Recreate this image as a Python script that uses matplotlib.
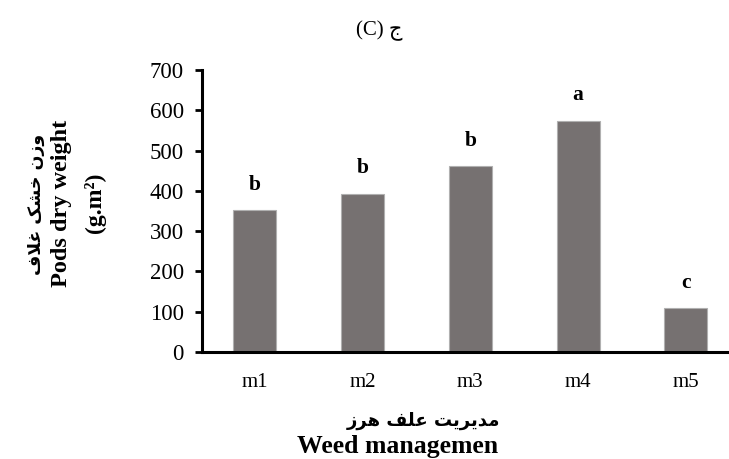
import matplotlib
matplotlib.use("Agg")
import matplotlib.pyplot as plt

categories = ["m1", "m2", "m3", "m4", "m5"]
values = [352, 393, 461, 574, 108]
letters = ["b", "b", "b", "a", "c"]
yticks = [0, 100, 200, 300, 400, 500, 600, 700]

# Arabic/Persian text in visual order using presentation forms
title_fa = "\uFE9D"                      # ج
ylab_fa = "\uFED1\uFEFC\uFECF \uFB8F\uFEB8\uFEA7 \uFEE5\uFEAF\uFEED"   # وزن خشک غلاف
xlab_fa = "\uFEAF\uFEAE\uFEEB \uFED2\uFEE0\uFECB \uFE96\uFBFE\uFEAE\uFBFE\uFEAA\uFEE3"  # مدیریت علف هرز

fam = ["Liberation Serif", "DejaVu Sans"]
plt.rcParams["font.family"] = fam

fig = plt.figure(figsize=(7.29, 4.59), dpi=100)
ax = fig.add_axes([202/729, (459-352)/459, 1 - 202/729, (352-70)/459])

x = list(range(len(categories)))
bars = ax.bar(x, values, width=0.4, color="#767171", edgecolor="#b0b0b0", linewidth=0.8)
for xi, v, l in zip(x, values, letters):
    ax.annotate(l, (xi, v), xytext=(0, 11), textcoords="offset points",
                ha="center", va="bottom", fontsize=15.5, fontweight="bold")

ax.set_xlim(-0.49, 4.4)
ax.set_ylim(0, 700)
ax.set_yticks(yticks)
ax.set_xticks(x)
ax.set_xticklabels(categories)
ax.tick_params(axis="y", length=5, width=2, labelsize=16.5, pad=8)
ax.tick_params(axis="x", length=0, labelsize=15, pad=15)
for s in ["top", "right"]:
    ax.spines[s].set_visible(False)
for s in ["left", "bottom"]:
    ax.spines[s].set_linewidth(2.2)
    ax.spines[s].set_color("black")

fig.text(379/729, 1 - 31/459, "(C) " + title_fa, ha="center", va="center", fontsize=15, family=fam)

fig.text(36/729, 1 - 204/459, ylab_fa, rotation=90, ha="center", va="center",
         fontsize=12.5, fontweight="bold", family=["DejaVu Sans"])
fig.text(61/729, 1 - 203/459, "Pods dry weight", rotation=90, ha="center", va="center",
         fontsize=17.5, fontweight="bold")
fig.text(95/729, 1 - 203/459, "(g.m\u00b2)", rotation=90, ha="center", va="center",
         fontsize=17, fontweight="bold")

fig.text(424/729, 1 - 421/459, xlab_fa, ha="center", va="center",
         fontsize=13, fontweight="bold", family=["DejaVu Sans"])
fig.text(398/729, 1 - 447/459, "Weed managemen", ha="center", va="center",
         fontsize=18.5, fontweight="bold")

fig.savefig("out.png", dpi=100)
